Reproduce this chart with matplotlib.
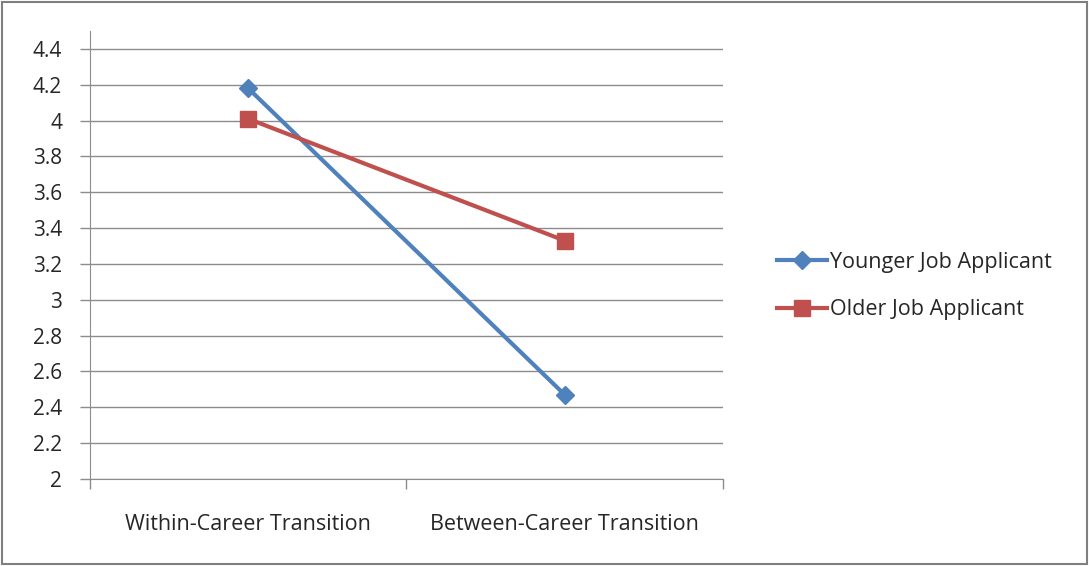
import matplotlib.pyplot as plt
from matplotlib.patches import Rectangle

plt.rcParams['font.family'] = ['Open Sans', 'DejaVu Sans']

categories = ['Within-Career Transition', 'Between-Career Transition']
younger = [4.18, 2.47]
older = [4.01, 3.33]
y_ticks = [2, 2.2, 2.4, 2.6, 2.8, 3, 3.2, 3.4, 3.6, 3.8, 4, 4.2, 4.4]
y_labels = ['2', '2.2', '2.4', '2.6', '2.8', '3', '3.2', '3.4', '3.6', '3.8', '4', '4.2', '4.4']

blue = '#4F81BD'
red = '#C0504D'

fig = plt.figure(figsize=(10.89, 5.66), dpi=100)
ax = fig.add_axes([90 / 1089, 1 - 479 / 566, 633 / 1089, 448 / 566])

x = list(range(len(categories)))
ax.plot(x, younger, color=blue, lw=3, marker='D', ms=9, label='Younger Job Applicant')
ax.plot(x, older, color=red, lw=3, marker='s', ms=12, label='Older Job Applicant')

ax.set_xlim(-0.5, 1.5)
ax.set_ylim(2, 4.5)
ax.set_yticks(y_ticks)
ax.set_yticklabels(y_labels, fontsize=15, color='#262626')
ax.yaxis.grid(True, color='#8c8c8c', lw=1)
ax.set_axisbelow(True)

ax.set_xticks(x)
ax.set_xticklabels(categories, fontsize=15.5, color='#262626')
ax.set_xticks([-0.5, 0.5, 1.5], minor=True)
ax.tick_params(axis='x', which='major', length=0, pad=25)
ax.tick_params(axis='x', which='minor', length=7, color='#8c8c8c', width=1)
ax.tick_params(axis='y', length=7, color='#8c8c8c', width=1, pad=13)

for side in ['top', 'right']:
    ax.spines[side].set_visible(False)
for side in ['left', 'bottom']:
    ax.spines[side].set_color('#8c8c8c')

leg = fig.legend(loc='center left', bbox_to_anchor=(758 / 1089, 1 - 286 / 566),
                 frameon=False, fontsize=15.5, handlelength=2.3, handletextpad=0.15,
                 labelspacing=1.25)
for t in leg.get_texts():
    t.set_color('#262626')

# outer frame
fig.patches.append(Rectangle((0.002, 0.003), 0.996, 0.994, transform=fig.transFigure,
                             fill=False, edgecolor='#7f7f7f', lw=1.5))

fig.savefig('out.png', dpi=100)
